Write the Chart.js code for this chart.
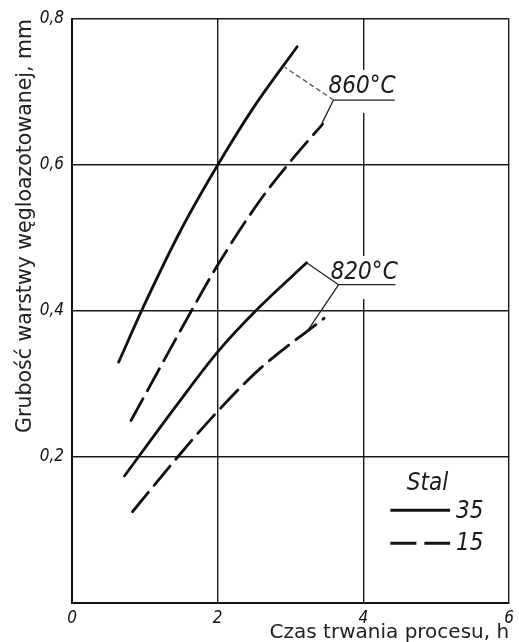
<!DOCTYPE html>
<html><head><meta charset="utf-8">
<script src="https://cdn.jsdelivr.net/npm/chart.js@4/dist/chart.umd.min.js"></script>
<style>html,body{margin:0;padding:0;background:#fff}#wrap{width:519px;height:642px}</style>
</head><body><div id="wrap"><canvas id="c" width="519" height="642"></canvas></div>
<script>
// ---- data ----
const xTickValues = [0, 2, 4, 6];
const yTickValues = [0, 0.2, 0.4, 0.6, 0.8];
const legendTitle = 'Stal';
const steelNames = ['35', '15'];
const tempLabels = ['860°C', '820°C'];
const xTitle = 'Czas trwania procesu, h';
const yTitle = 'Grubość warstwy węgloazotowanej, mm';

// steel 35 (solid), 860 °C
const s35_860 = [[0.64,0.33],[1.0,0.41],[1.5,0.512],[2.0,0.60],[2.5,0.68],[3.09,0.762]];
// steel 15 (dashed), 860 °C
const s15_860 = [[0.81,0.25],[1.61,0.395],[2.0,0.463],[2.57,0.55],[3.0,0.605],[3.44,0.656]];
// steel 35 (solid), 820 °C
const s35_820 = [[0.72,0.174],[1.43,0.27],[2.0,0.344],[2.57,0.405],[3.22,0.466]];
// steel 15 (dashed), 820 °C
const s15_820 = [[0.83,0.125],[1.45,0.2],[1.93,0.255],[2.57,0.32],[3.46,0.39]];

const toPts = a => a.map(p => ({x: p[0], y: p[1]}));
const DASH = [25, 9];
const LW = 2.8;
const INK = '#111';
const labelFont = 'italic 24px "DejaVu Sans Condensed", "DejaVu Sans", sans-serif';

function ds(pts, dashed, label) {
  return {
    label, data: toPts(pts), borderColor: INK, borderWidth: LW,
    borderDash: dashed ? DASH : [], pointRadius: 0, fill: false,
    tension: 0.4, cubicInterpolationMode: 'monotone', borderCapStyle: 'round'
  };
}

const annot = {
  id: 'annot',
  afterDatasetsDraw(chart) {
    const {ctx, scales: {x, y}} = chart;
    const P = (a, b) => [x.getPixelForValue(a), y.getPixelForValue(b)];
    ctx.save();
    function tempLabel(text, tx, ty, ulFrom, ulTo, ulY, targets, dashedFirst) {
      const [lx, ly] = P(tx, ty);
      ctx.font = labelFont;
      const w = ctx.measureText(text).width;
      ctx.fillStyle = '#fff';
      ctx.fillRect(lx - 3, ly - 17, w + 6, 43);
      ctx.fillStyle = '#1a1a1a';
      ctx.textBaseline = 'middle';
      ctx.textAlign = 'left';
      ctx.fillText(text, lx, ly);
      const [u1x, uy] = P(ulFrom, ulY);
      const [u2x] = P(ulTo, ulY);
      ctx.strokeStyle = '#222';
      ctx.lineWidth = 1.3;
      ctx.setLineDash([]);
      ctx.beginPath(); ctx.moveTo(u1x, uy); ctx.lineTo(u2x, uy); ctx.stroke();
      targets.forEach((t, i) => {
        const [tx2, ty2] = P(t[0], t[1]);
        ctx.setLineDash(i === 0 && dashedFirst ? [5, 3] : []);
        ctx.strokeStyle = i === 0 && dashedFirst ? '#555' : '#222';
        ctx.beginPath(); ctx.moveTo(u1x, uy); ctx.lineTo(tx2, ty2); ctx.stroke();
      });
      ctx.setLineDash([]);
    }
    tempLabel(tempLabels[0], 3.52, 0.707, 3.59, 4.43, 0.689, [[2.92, 0.734], [3.43, 0.657]], true);
    tempLabel(tempLabels[1], 3.55, 0.452, 3.66, 4.44, 0.436, [[3.22, 0.466], [3.22, 0.371]], false);

    // legend
    ctx.font = labelFont;
    ctx.fillStyle = '#1a1a1a';
    ctx.textBaseline = 'middle';
    ctx.textAlign = 'center';
    let [sx, sy] = P(4.88, 0.163);
    ctx.fillText(legendTitle, sx, sy);
    ctx.textAlign = 'left';
    const rows = [{dash: [], yv: 0.127}, {dash: [26, 8], yv: 0.082}];
    rows.forEach((r, i) => {
      const [a, ry] = P(4.37, r.yv);
      const [b] = P(5.19, r.yv);
      ctx.strokeStyle = INK; ctx.lineWidth = 3; ctx.setLineDash(r.dash);
      ctx.beginPath(); ctx.moveTo(a, ry); ctx.lineTo(b, ry); ctx.stroke();
      ctx.setLineDash([]);
      const [tx] = P(5.27, r.yv);
      ctx.fillText(steelNames[i], tx, ry + 1);
    });
    ctx.restore();
  }
};

new Chart(document.getElementById('c'), {
  type: 'line',
  data: {
    datasets: [
      ds(s35_860, false, '35 / 860°C'),
      ds(s15_860, true, '15 / 860°C'),
      ds(s35_820, false, '35 / 820°C'),
      ds(s15_820, true, '15 / 820°C')
    ]
  },
  options: {
    responsive: false, animation: false, devicePixelRatio: 1,
    layout: {padding: {left: 0, right: 8, top: 19, bottom: 0}},
    plugins: {legend: {display: false}, tooltip: {enabled: false}},
    scales: {
      x: {
        type: 'linear', min: 0, max: 6,
        afterBuildTicks: s => { s.ticks = xTickValues.map(v => ({value: v})); },
        afterFit: s => { s.height = 39; },
        ticks: {
          callback: v => String(v), padding: 5, color: '#111', maxRotation: 0,
          font: {family: '"DejaVu Sans Condensed", "DejaVu Sans"', size: 17, style: 'italic'}
        },
        grid: {color: '#1a1a1a', lineWidth: 1.4, drawTicks: false},
        border: {display: true, color: '#111', width: 2},
        title: {
          display: true, text: xTitle, align: 'end', color: '#222',
          font: {family: '"DejaVu Sans"', size: 20, lineHeight: 1},
          padding: {top: 0, bottom: -1}
        }
      },
      y: {
        type: 'linear', min: 0, max: 0.8,
        afterBuildTicks: s => { s.ticks = yTickValues.map(v => ({value: v})); },
        afterFit: s => { s.width = 72; },
        ticks: {
          callback: v => v === 0 ? '' : v.toFixed(1).replace('.', ','), padding: 8, color: '#111',
          font: {family: '"DejaVu Sans Condensed", "DejaVu Sans"', size: 17, style: 'italic'}
        },
        grid: {color: '#1a1a1a', lineWidth: 1.4, drawTicks: false},
        border: {display: true, color: '#111', width: 2},
        title: {
          display: true, text: yTitle, align: 'end', color: '#222',
          font: {family: '"DejaVu Sans"', size: 20.5, lineHeight: 1.2},
          padding: {top: 13, bottom: 0}
        }
      }
    }
  },
  plugins: [annot]
});
</script>
</body></html>
